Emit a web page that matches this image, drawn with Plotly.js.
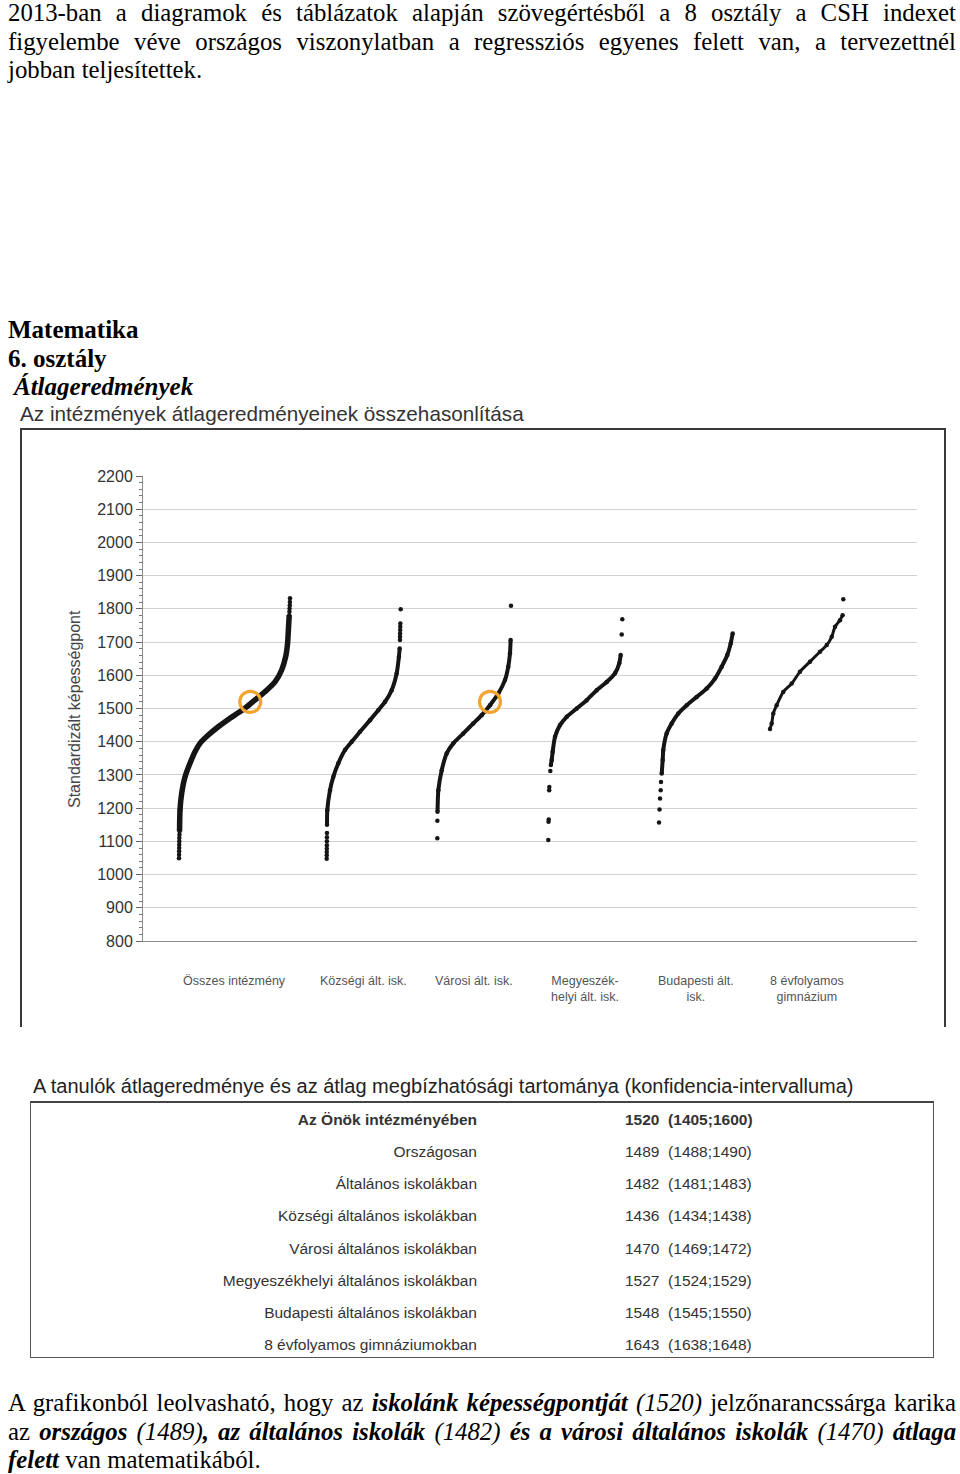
<!DOCTYPE html>
<html><head><meta charset="utf-8">
<script src="https://cdn.plot.ly/plotly-3.0.1.min.js"></script>
<style>
body{margin:0;width:960px;height:1474px;position:relative;background:#fff;overflow:hidden}
.p{position:absolute;left:8px;width:948px;font-family:"Liberation Serif","Times New Roman",serif;font-size:24.8px;line-height:28.5px;color:#000}
.j{text-align:justify;text-align-last:justify}
.h{position:absolute;left:8px;font-family:"Liberation Serif","Times New Roman",serif;font-size:25px;font-weight:bold;line-height:28.5px;color:#000}
#chart{position:absolute;left:0;top:400px;width:960px;height:640px}
.sans{font-family:"Liberation Sans",Arial,sans-serif}
#ttitle{position:absolute;left:33px;top:1074px;font-size:20px;color:#222;white-space:nowrap;line-height:24px}
#tbox{position:absolute;left:30px;top:1101px;width:902px;height:254px;border:1.5px solid #555;border-top:2px solid #444}
.row{position:absolute;font-size:15.5px;color:#333;white-space:nowrap;line-height:20px}
</style></head>
<body>
<div class="p" style="top:-1px">
<div class="j">2013-ban a diagramok és táblázatok alapján szövegértésből a 8 osztály a CSH indexet</div>
<div class="j">figyelembe véve országos viszonylatban a regressziós egyenes felett van, a tervezettnél</div>
<div>jobban teljesítettek.</div>
</div>
<div class="h" style="top:316px">Matematika</div>
<div class="h" style="top:345px">6. osztály</div>
<div class="h" style="top:373px;left:14px;font-style:italic">Átlageredmények</div>
<div id="chart"></div>
<div id="ttitle" class="sans">A tanulók átlageredménye és az átlag megbízhatósági tartománya (konfidencia-intervalluma)</div>
<div id="tbox"></div>
<div id="rows" class="sans"></div>
<div class="p" style="top:1389px">
<div class="j">A grafikonból leolvasható, hogy az <b><i>iskolánk képességpontját</i></b> <i>(1520)</i> jelzőnarancssárga karika</div>
<div class="j">az <b><i>országos</i></b> <i>(1489)</i><b><i>, az általános iskolák</i></b> <i>(1482)</i> <b><i>és a városi általános iskolák</i></b> <i>(1470)</i> <b><i>átlaga</i></b></div>
<div><b><i>felett</i></b> van matematikából.</div>
</div>
<script>
// ---------- DATA ----------
const categories = ['Összes intézmény', 'Községi ált. isk.', 'Városi ált. isk.', 'Megyeszék-<br>helyi ált. isk.', 'Budapesti ált.<br>isk.', '8 évfolyamos<br>gimnázium'];

// percentile rank of the school within its group (0-100) and its standardised score
const osszesRank  = [0.5, 0.9, 2.4, 5.4, 9.9, 14.4, 18.9, 26.4, 35.4, 44.4, 53.4, 61, 70, 79, 86.5, 92.5, 96.1, 97.8, 98.7, 99.3];
const osszesScore = [1130, 1194, 1244, 1294, 1335, 1370, 1395, 1420, 1445, 1467, 1487, 1505, 1530, 1555, 1580, 1616, 1656, 1696, 1746, 1781];
const osszesDotRank  = [0, 0.05, 0.1, 0.15, 0.2, 0.25, 0.3, 0.4, 99.5, 99.6, 99.8, 99.9, 100];
const osszesDotScore = [1049, 1060, 1070, 1080, 1090, 1100, 1110, 1120, 1791, 1801, 1811, 1821, 1832];

const kozsegiRank  = [0.4, 0.8, 4.5, 8.9, 15.7, 24.7, 33.8, 45, 58.5, 69.7, 78.8, 87.8, 94.6, 97.6, 98.6];
const kozsegiScore = [1150, 1194, 1254, 1294, 1335, 1375, 1400, 1430, 1465, 1495, 1520, 1555, 1606, 1656, 1681];
const kozsegiDotRank  = [0, 0.05, 0.1, 0.15, 0.2, 0.25, 0.3, 0.35, 99.0, 99.1, 99.2, 99.3, 99.4, 99.5, 100];
const kozsegiDotScore = [1048, 1058, 1068, 1078, 1088, 1100, 1112, 1125, 1706, 1716, 1726, 1736, 1746, 1756, 1799];

const varosiRank  = [0.3, 1.4, 6, 12.8, 21.7, 35.3, 48.8, 60.2, 71.5, 82.8, 91.9, 96.3, 98.6, 99.5];
const varosiScore = [1189, 1254, 1314, 1365, 1395, 1425, 1455, 1480, 1510, 1545, 1586, 1626, 1666, 1706];
const varosiDotRank  = [0, 0.1, 100];
const varosiDotScore = [1109, 1162, 1809];

const megyeRank  = [3.5, 4.6, 5.9, 9.1, 15.8, 24.9, 38.4, 51.9, 65.4, 78.9, 90.1, 95.9, 97.8];
const megyeScore = [1330, 1345, 1370, 1415, 1450, 1475, 1500, 1525, 1555, 1580, 1606, 1636, 1661];
const megyeDotRank  = [0, 0.3, 0.6, 1.2, 1.4, 2.7, 99.2, 100];
const megyeDotScore = [1104, 1159, 1166, 1254, 1264, 1312, 1723, 1769];

const budapestRank  = [3.7, 5, 5.8, 10.4, 17.2, 26.2, 37.6, 51.2, 64.7, 76, 85.1, 92.7, 97.3, 100];
const budapestScore = [1304, 1345, 1375, 1425, 1455, 1485, 1510, 1535, 1560, 1590, 1626, 1661, 1696, 1726];
const budapestDotRank  = [0, 0.7, 1.4, 2.3, 2.7];
const budapestDotScore = [1157, 1196, 1229, 1254, 1279];

const gimnRank  = [0, 2.3, 4.5, 9.1, 18.1, 29.6, 40.9, 54.6, 68.2, 77.4, 84.2, 88.7, 95.5, 99.1];
const gimnScore = [1438, 1455, 1485, 1510, 1550, 1575, 1611, 1641, 1671, 1691, 1716, 1746, 1766, 1781];
const gimnDotRank  = [100];
const gimnDotScore = [1829];

// own school (orange ring): group index and rank within that group
const schoolGroups = [0, 2];
const schoolRank = [64.2, 71.5];

const yTicks = [800, 900, 1000, 1100, 1200, 1300, 1400, 1500, 1600, 1700, 1800, 1900, 2000, 2100, 2200];

const tableLabels = ['Az Önök intézményében', 'Országosan', 'Általános iskolákban', 'Községi általános iskolákban', 'Városi általános iskolákban', 'Megyeszékhelyi általános iskolákban', 'Budapesti általános iskolákban', '8 évfolyamos gimnáziumokban'];
const tableMean = [1520, 1489, 1482, 1436, 1470, 1527, 1548, 1643];
const tableLow  = [1405, 1488, 1481, 1434, 1469, 1524, 1545, 1638];
const tableHigh = [1600, 1490, 1483, 1438, 1472, 1529, 1550, 1648];

// ---------- LAYOUT ----------
const PL = 143, PT = 476, PW = 774, PH = 465, DIVTOP = 400, DIVH = 640;
const xp = px => (px - PL) / PW;
const yp = py => (PT + PH - py) / PH;
const groupLeft  = [36, 183.7, 294.3, 405.3, 516, 627];
const groupWidth = [111, 74, 73.7, 74, 73.7, 73.3];
const gx = (g, r) => groupLeft[g] + r / 100 * groupWidth[g];

const groups = [
  [osszesRank, osszesScore, osszesDotRank, osszesDotScore],
  [kozsegiRank, kozsegiScore, kozsegiDotRank, kozsegiDotScore],
  [varosiRank, varosiScore, varosiDotRank, varosiDotScore],
  [megyeRank, megyeScore, megyeDotRank, megyeDotScore],
  [budapestRank, budapestScore, budapestDotRank, budapestDotScore],
  [gimnRank, gimnScore, gimnDotRank, gimnDotScore]
];
const dotColor = '#151515';
const traces = [];
groups.forEach((g, i) => {
  traces.push({x: g[0].map(r => gx(i, r)), y: g[1], mode: 'lines+markers', type: 'scatter',
    line: {color: dotColor, width: i === 0 ? 5.5 : (i === 5 ? 3 : 4), shape: 'spline', smoothing: 0.6},
    marker: {color: dotColor, size: 4.5}, hoverinfo: 'y', showlegend: false, cliponaxis: false});
  traces.push({x: g[2].map(r => gx(i, r)), y: g[3], mode: 'markers', type: 'scatter',
    marker: {color: dotColor, size: 4.5}, hoverinfo: 'y', showlegend: false, cliponaxis: false});
});
traces.push({x: schoolGroups.map((g, k) => gx(g, schoolRank[k])), y: schoolGroups.map(() => tableMean[0]),
  mode: 'markers', type: 'scatter', showlegend: false,
  marker: {symbol: 'circle-open', size: 21, color: '#F2A431', line: {width: 3.2, color: '#F2A431'}}});

const font = 'Liberation Sans, Arial, sans-serif';
const annotations = categories.map((c, i) => ({
  x: groupLeft[i] + groupWidth[i] / 2, xref: 'x', y: 0, yref: 'paper', yanchor: 'top', yshift: -31,
  text: c, showarrow: false, font: {family: font, size: 12.5, color: '#555'}, align: 'center'
}));
annotations.push({text: 'Standardizált képességpont', xref: 'paper', yref: 'paper', x: xp(74), y: yp(709),
  textangle: -90, showarrow: false, xanchor: 'center', yanchor: 'middle', font: {family: font, size: 16, color: '#444'}});

const lineStyle = {color: '#3a3a3a', width: 2};
const shapes = [
  {type: 'line', xref: 'paper', yref: 'paper', x0: xp(20), x1: xp(946), y0: yp(429), y1: yp(429), line: lineStyle},
  {type: 'line', xref: 'paper', yref: 'paper', x0: xp(21), x1: xp(21), y0: yp(429), y1: yp(1027), line: lineStyle},
  {type: 'line', xref: 'paper', yref: 'paper', x0: xp(945), x1: xp(945), y0: yp(429), y1: yp(1027), line: lineStyle}
];

const layout = {
  width: 960, height: DIVH,
  margin: {l: PL, r: 960 - PL - PW, t: PT - DIVTOP, b: DIVH - (PT - DIVTOP) - PH, pad: 0},
  paper_bgcolor: 'rgba(0,0,0,0)', plot_bgcolor: 'rgba(0,0,0,0)',
  title: {text: 'Az intézmények átlageredményeinek összehasonlítása', xref: 'container', yref: 'container',
    x: 20 / 960, xanchor: 'left', y: 1 - 14 / DIVH, yanchor: 'middle', font: {family: font, size: 20.7, color: '#333'}},
  xaxis: {range: [0, PW], showgrid: false, zeroline: false, showticklabels: false, ticks: '',
    showline: true, linecolor: '#8a8a8a', linewidth: 1, fixedrange: true},
  yaxis: {range: [800, 2200], tickvals: yTicks, showgrid: true, gridcolor: '#d2d2d2', gridwidth: 1, zeroline: false,
    showline: true, linecolor: '#8a8a8a', linewidth: 1, ticks: 'outside', ticklen: 6, tickcolor: '#666',
    tickfont: {family: font, size: 16, color: '#333'},
    minor: {dtick: 20, ticks: 'outside', ticklen: 3, tickcolor: '#777', showgrid: false}, fixedrange: true},
  annotations: annotations, shapes: shapes, showlegend: false
};
Plotly.newPlot('chart', traces, layout, {staticPlot: true});

// ---------- TABLE ----------
const rowsEl = document.getElementById('rows');
tableLabels.forEach((lab, i) => {
  const cy = 1120 + i * 32.15;
  const bold = i === 0 ? 'font-weight:bold;' : '';
  const a = document.createElement('div');
  a.className = 'row';
  a.style.cssText = bold + 'right:' + (960 - 477) + 'px;top:' + (cy - 10) + 'px;text-align:right';
  a.textContent = lab;
  rowsEl.appendChild(a);
  const b = document.createElement('div');
  b.className = 'row';
  b.style.cssText = bold + 'left:625px;top:' + (cy - 10) + 'px;white-space:pre';
  b.textContent = tableMean[i] + '  (' + tableLow[i] + ';' + tableHigh[i] + ')';
  rowsEl.appendChild(b);
});
</script>
</body></html>
